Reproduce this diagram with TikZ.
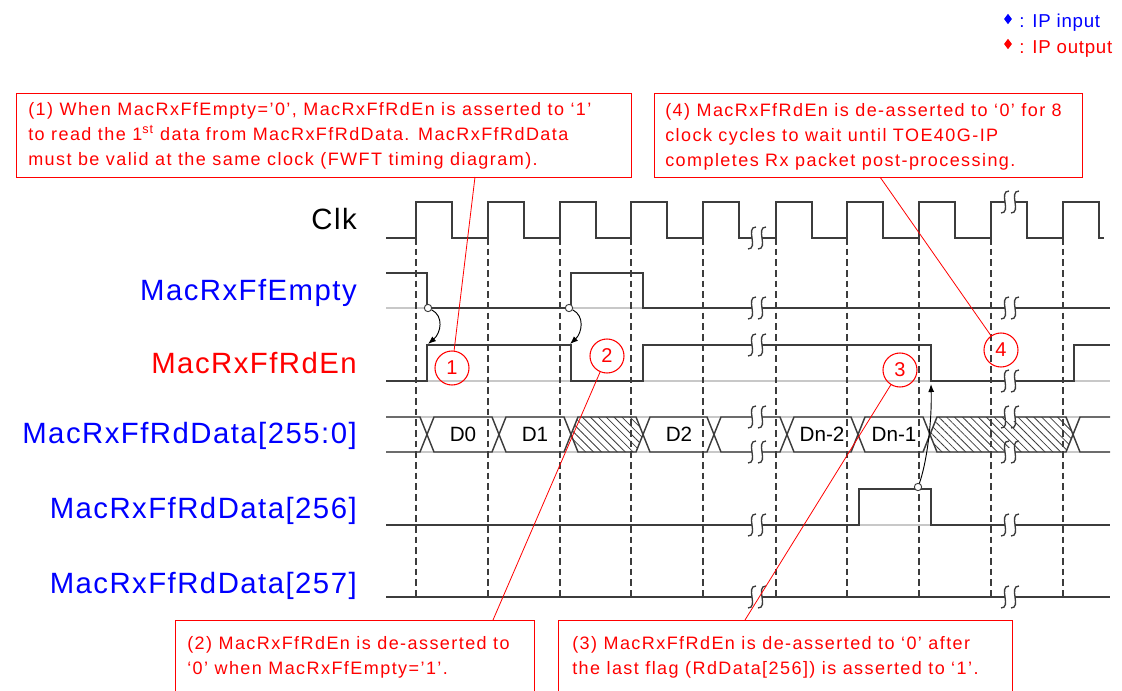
\documentclass[tikz,border=0pt]{standalone}
\usepackage{fontspec}
\setmainfont{Liberation Sans}
\newfontfamily\lblfont[LetterSpace=5]{Liberation Sans}
\newfontfamily\cfont[LetterSpace=8]{Liberation Sans}
\newfontfamily\lgfont[LetterSpace=4]{Liberation Sans}
\usetikzlibrary{shapes.geometric,patterns.meta,arrows.meta}
\definecolor{sigc}{RGB}{60,60,60}
\definecolor{basec}{RGB}{200,200,200}
\definecolor{lblue}{RGB}{0,0,255}
\definecolor{lred}{RGB}{255,0,0}
\tikzset{
 sig/.style={line width=1.1pt, draw=sigc, line join=miter},
 baseln/.style={line width=1.1pt, draw=basec},
 gridln/.style={line width=0.9pt, draw=sigc, dash pattern=on 5pt off 3pt},
 lbl/.style={font=\lblfont\fontsize{22}{26}\selectfont, anchor=base east, inner sep=0},
 ctext/.style={font=\cfont\fontsize{13.5}{18.75}\selectfont, text=lred, align=left, anchor=north west, inner sep=0},
 cbox/.style={draw=lred, line width=0.8pt, anchor=north west, inner sep=0},
 cline/.style={draw=lred, line width=0.6pt},
 num/.style={circle, draw=lred, line width=0.8pt, text=lred, minimum size=25.5pt, inner sep=0, font=\fontsize{15}{17}\selectfont},
 dlab/.style={font=\fontsize{15.5}{18}\selectfont, inner sep=0},
 odot/.style={circle, draw=sigc, line width=0.7pt, fill=white, minimum size=5.5pt, inner sep=0},
 carrow/.style={draw=black, line width=0.7pt, -{Latex[length=6pt,width=4.5pt]}},
 hatch/.style={sig, pattern={Lines[angle=-45,distance=4.2pt,line width=0.6pt]}, pattern color=sigc},
 legd/.style={diamond, inner sep=0, minimum width=6pt, minimum height=8pt},
 legt/.style={font=\lgfont\fontsize{14}{16}\selectfont, anchor=base west, inner sep=0},
 brk/.pic={
   \fill[white] (-5,-4) rectangle (5,4);
   \draw[line width=1pt, draw=sigc] (-1,-11) .. controls (-12,-11) and (2,11) .. (-9,11);
   \draw[line width=1pt, draw=sigc] (9,-11) .. controls (-2,-11) and (12,11) .. (1,11);
 }
}
\newcommand\busseg[3]{\draw[#3] (#1,434.5) -- (#1+7,417) -- (#2-7,417) -- (#2,434.5) -- (#2-7,452) -- (#1+7,452) -- cycle;}
\begin{document}
\begin{tikzpicture}[x=0.75pt, y=-0.75pt]
\useasboundingbox (0,0) rectangle (1122,690);
\clip (0,0) rectangle (1122,690);

% legend
\node[legd, fill=lblue] (ld1) at (1008,19) {};
\node[legt, text=lblue] (lt1) at (1019,27) {: IP input};
\node[legd, fill=lred] (ld2) at (1008,44) {};
\node[legt, text=lred] (lt2) at (1019,53) {: IP output};

% light baselines
\draw[baseln] (386,308) -- (1110,308);
\draw[baseln] (386,381) -- (1110,381);
\draw[baseln] (386,417) -- (1110,417);
\draw[baseln] (386,452) -- (1110,452);
\draw[baseln] (386,525) -- (1110,525);

% dashed clock edge lines
\foreach \r in {416,488,560,631,703,776,847,919,991,1063} \draw[gridln] (\r,238) -- (\r,600);

% Clk
\draw[sig] (386,238) foreach \r in {416,488,560,631,703,776,847,919,991,1063} { -- (\r,238) -- (\r,202) -- (\r+36,202) -- (\r+36,238) } -- (1104,238);
% MacRxFfEmpty
\draw[sig] (386,273) -- (427,273) -- (427,308) -- (571,308) -- (571,273) -- (643,273) -- (643,308) -- (1110,308);
% MacRxFfRdEn
\draw[sig] (386,381) -- (427,381) -- (427,345) -- (571,345) -- (571,381) -- (643,381) -- (643,345) -- (931,345) -- (931,381) -- (1074,381) -- (1074,345) -- (1110,345);
% MacRxFfRdData[255:0]
\draw[sig] (386,417) -- (420,417) -- (427,434.5) -- (420,452) -- (386,452);
\busseg{427}{499}{sig}
\busseg{499}{571}{sig}
\busseg{571}{643}{hatch}
\busseg{643}{714}{sig}
\busseg{714}{787}{sig}
\busseg{787}{858}{sig}
\busseg{858}{930}{sig}
\busseg{930}{1073}{hatch}
\draw[sig] (1110,417) -- (1080,417) -- (1073,434.5) -- (1080,452) -- (1110,452);
% MacRxFfRdData[256]
\draw[sig] (386,525) -- (859,525) -- (859,489) -- (931,489) -- (931,525) -- (1110,525);
% MacRxFfRdData[257]
\draw[sig] (386,597) -- (1110,597);

% breaks
\foreach \y in {238,308,345,417,452,525,597} \pic at (757,\y) {brk};
\foreach \y in {202,308,381,417,452,525,597} \pic at (1010,\y) {brk};

% data labels
\node[dlab] (d0) at (463,434.5) {D0};
\node[dlab] (d1) at (535,434.5) {D1};
\node[dlab] (d2) at (679,434.5) {D2};
\node[dlab] (dn2) at (822,434.5) {Dn-2};
\node[dlab] (dn1) at (894,434.5) {Dn-1};

% signal names
\node[lbl, text=black] (lclk) at (357,229) {Clk};
\node[lbl, text=lblue] (lemp) at (357,300) {MacRxFfEmpty};
\node[lbl, text=lred] (lrden) at (357,373) {MacRxFfRdEn};
\node[lbl, text=lblue] (ldat) at (357,443) {MacRxFfRdData[255:0]};
\node[lbl, text=lblue] (l256) at (357,518) {MacRxFfRdData[256]};
\node[lbl, text=lblue] (l257) at (357,593) {MacRxFfRdData[257]};

% cause arrows
\node[odot] (o1) at (428,308) {};
\coordinate (e1) at (428,344);
\draw[carrow] (o1) .. controls (444,316) and (441,333) .. (e1);
\node[odot] (o2) at (569,308) {};
\coordinate (e2) at (570,344);
\draw[carrow] (o2) .. controls (585,316) and (582,333) .. (e2);
\node[odot] (o3) at (918,487) {};
\coordinate (e3) at (931,384);
\draw[carrow] (o3) .. controls (926,465) and (932,425) .. (e3);

% callouts
\node[cbox, minimum width=461.25pt, minimum height=63pt] (b1) at (16,93) {};
\node[ctext] (t1) at (28,102) {(1) When MacRxFfEmpty=’0’, MacRxFfRdEn is asserted to ‘1’\\to read the 1\textsuperscript{st} data from MacRxFfRdData. MacRxFfRdData\\must be valid at the same clock (FWFT timing diagram).};
\node[num] (c1) at (452,368) {1};
\coordinate (p1) at (475,177);
\draw[cline] (p1) -- (c1);

\node[cbox, minimum width=321pt, minimum height=63pt] (b4) at (654,93) {};
\node[ctext] (t4) at (665,103) {(4) MacRxFfRdEn is de-asserted to ‘0’ for 8\\clock cycles to wait until TOE40G-IP\\completes Rx packet post-processing.};
\node[num] (c4) at (1001,350) {4};
\coordinate (p4) at (880,177);
\draw[cline] (p4) -- (c4);

\node[cbox, minimum width=269.25pt, minimum height=56.25pt] (b2) at (175,620) {};
\node[ctext] (t2) at (187,636) {(2) MacRxFfRdEn is de-asserted to\\‘0’ when MacRxFfEmpty=’1’.};
\node[num] (c2) at (607,356) {2};
\coordinate (p2) at (493,620);
\draw[cline] (p2) -- (c2);

\node[cbox, minimum width=340.5pt, minimum height=56.25pt] (b3) at (558,620) {};
\node[ctext] (t3) at (572,636) {(3) MacRxFfRdEn is de-asserted to ‘0’ after\\the last flag (RdData[256]) is asserted to ‘1’.};
\node[num] (c3) at (900,370) {3};
\coordinate (p3) at (745,620);
\draw[cline] (p3) -- (c3);
\end{tikzpicture}
\end{document}
